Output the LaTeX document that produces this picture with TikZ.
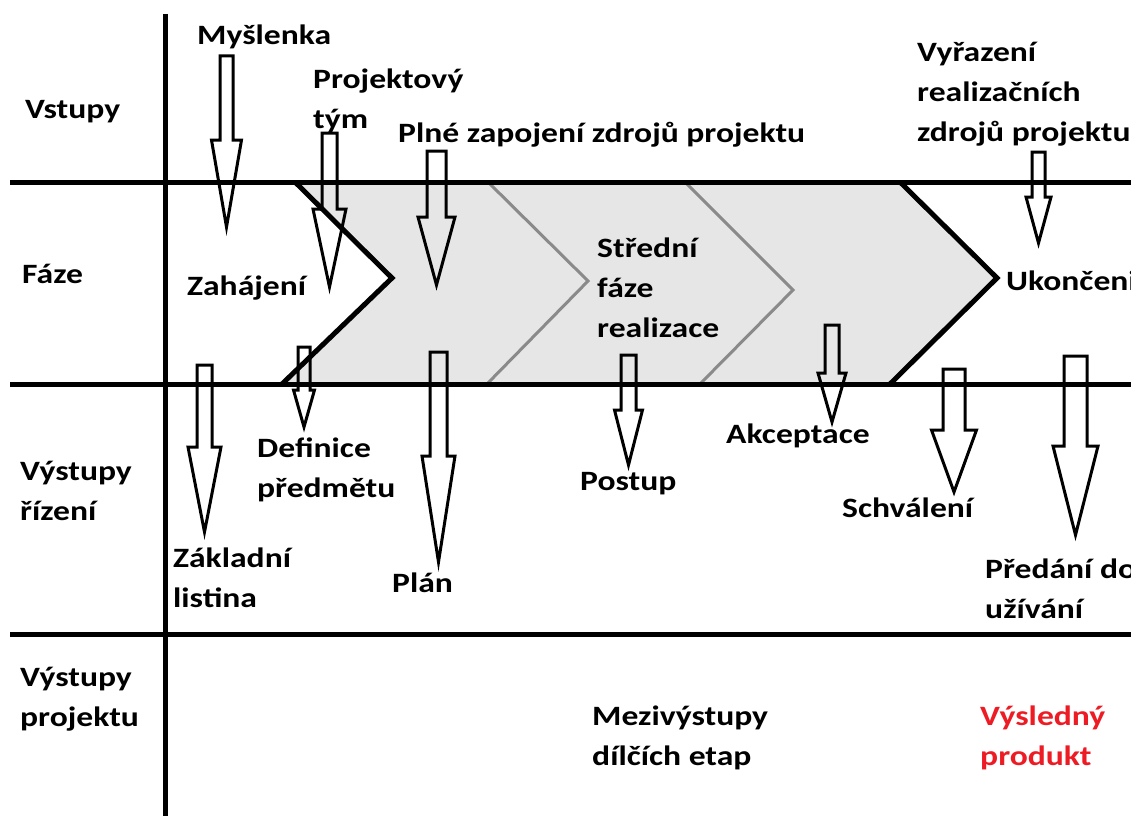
\documentclass[tikz,border=0pt]{standalone}
\usepackage{fontspec}
\setmainfont{Carlito}[FakeStretch=1.2]
\definecolor{phasefill}{RGB}{230,230,230}
\definecolor{divgray}{RGB}{138,138,138}
\definecolor{redtext}{RGB}{237,28,36}
\newcommand\blkarrow[6]{%
  \draw[blockarr] (#1-#2,#4) -- (#1+#2,#4) -- (#1+#2,#5) -- (#1+#3,#5) -- (#1,#6) -- (#1-#3,#5) -- (#1-#2,#5) -- cycle;}
\begin{document}
\begin{tikzpicture}[x=1pt,y=-1pt,
  lbl/.style={anchor=base west,inner sep=0pt,align=left,font=\bfseries\fontsize{28}{40}\selectfont},
  rule/.style={line width=5pt},
  blockarr/.style={draw=black,line width=3pt,line join=miter,miter limit=20},
  divider/.style={draw=divgray,line width=3pt},
  edge/.style={line width=5pt,line join=miter}]
\useasboundingbox (0,0) rectangle (1131,816);
% phase band
\fill[phasefill] (295,182) -- (900,182) -- (997,278) -- (890,384) -- (282,384) -- (392,278) -- cycle;
\draw[divider] (488,182) -- (588,281) -- (487,384);
\draw[divider] (685,182) -- (793,290) -- (700,384);
\draw[edge] (295,182) -- (392,278) -- (282,384);
\draw[edge] (900,182) -- (997,278) -- (890,384);
% grid
\draw[rule] (10,182) -- (1131,182);
\draw[rule] (10,384) -- (1131,384);
\draw[rule] (10,634) -- (1131,634);
\draw[rule] (165,14) -- (165,816);
% arrows
\blkarrow{226.5}{6.5}{15}{56}{140}{227}
\blkarrow{329.5}{7.5}{16.5}{133}{209}{287}
\blkarrow{436.5}{9.5}{18.5}{151}{217}{285}
\blkarrow{1038.5}{6.5}{12.5}{152}{197}{243}
\blkarrow{204.5}{7.5}{16.5}{365}{447}{532}
\blkarrow{304}{6}{10.5}{347}{390}{427}
\blkarrow{438.5}{8.5}{16.5}{352}{456}{562}
\blkarrow{628.5}{7.5}{14}{355}{410}{465}
\blkarrow{832}{7}{14}{325}{373}{422}
\blkarrow{954}{11}{22.5}{369}{430}{492}
\blkarrow{1075.5}{11.5}{22.5}{356}{446}{535}
% row labels (multi-line nodes: base = last line)
\node[lbl] (vstupy) at (25,118) {Vstupy};
\node[lbl] (faze) at (22,283) {Fáze};
\node[lbl] (vrizeni) at (20,520) {Výstupy\\řízení};
\node[lbl] (vprojektu) at (20,726) {Výstupy\\projektu};
% inputs
\node[lbl] (myslenka) at (197,45) {Myšlenka};
\node[lbl] (tym) at (313,128) {Projektový\\tým};
\node[lbl] (plne) at (398,142) {Plné zapojení zdrojů projektu};
\node[lbl] (vyrazeni) at (917,141) {Vyřazení\\realizačních\\zdrojů projektu};
% phases
\node[lbl] (zahajeni) at (187,295) {Zahájení};
\node[lbl] (stredni) at (597,337) {Střední\\fáze\\realizace};
\node[lbl] (ukonceni) at (1006,290) {Ukončeni};
% management outputs
\node[lbl] (definice) at (257,497) {Definice\\předmětu};
\node[lbl] (zakladni) at (173,607) {Základní\\listina};
\node[lbl] (plan) at (392,592) {Plán};
\node[lbl] (postup) at (580,490) {Postup};
\node[lbl] (akceptace) at (726,443) {Akceptace};
\node[lbl] (schvaleni) at (842,517) {Schválení};
\node[lbl] (predani) at (985,618) {Předání do\\užívání};
% project outputs
\node[lbl] (mezi) at (592,765) {Mezivýstupy\\dílčích etap};
\node[lbl,text=redtext] (vysledny) at (980,765) {Výsledný\\produkt};
\end{tikzpicture}
\end{document}
